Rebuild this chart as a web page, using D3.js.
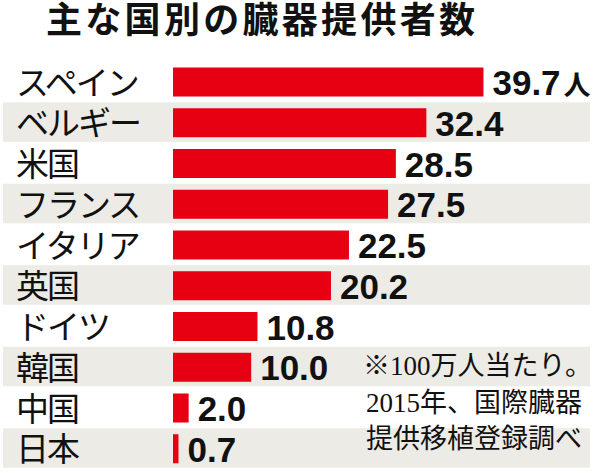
<!DOCTYPE html>
<html>
<head>
<meta charset="utf-8">
<script src="https://cdn.jsdelivr.net/npm/d3@7"></script>
<style>
  html, body { margin: 0; padding: 0; background: #fff; }
  svg { display: block; }
</style>
</head>
<body>
<script>
const titleText = "主な国別の臓器提供者数";
const categories = ["スペイン", "ベルギー", "米国", "フランス", "イタリア", "英国", "ドイツ", "韓国", "中国", "日本"];
const values = [39.7, 32.4, 28.5, 27.5, 22.5, 20.2, 10.8, 10.0, 2.0, 0.7];
const valueLabels = ["39.7", "32.4", "28.5", "27.5", "22.5", "20.2", "10.8", "10.0", "2.0", "0.7"];
const unitText = "人";
const noteLines = ["※100万人当たり。", "2015年、国際臓器", "提供移植登録調べ"];

const W = 600, H = 473;
const svg = d3.select("body").append("svg").attr("width", W).attr("height", H);

const x = d3.scaleLinear().domain([0, 40]).range([173, 173 + 40 * 7.82]);
const y = d3.scaleBand().domain(categories).range([61, 61 + 10 * 40.75]);
const bw = y.bandwidth();

// alternating row backgrounds
svg.append("g").selectAll("rect")
  .data(categories.filter((c, i) => i % 2 === 1))
  .join("rect")
  .attr("x", 3).attr("width", 587)
  .attr("y", c => y(c) + 0.5).attr("height", bw - 1.2)
  .attr("fill", "#ecebe6");

// title
svg.append("text")
  .attr("x", 46).attr("y", 33)
  .attr("font-family", "'Noto Sans CJK JP', sans-serif")
  .attr("font-weight", 700).attr("font-size", 36)
  .attr("letter-spacing", 3.3)
  .attr("fill", "#111")
  .text(titleText);

// bars
const barOff = 6.5, barH = 29;
svg.append("g").selectAll("rect")
  .data(values)
  .join("rect")
  .attr("x", x(0))
  .attr("y", (d, i) => y(categories[i]) + barOff)
  .attr("width", d => x(d) - x(0))
  .attr("height", barH)
  .attr("fill", "#e60012");

// category labels
svg.append("g").selectAll("text")
  .data(categories)
  .join("text")
  .attr("x", 16)
  .attr("y", c => y(c) + barOff + barH / 2 + 12.7)
  .attr("font-family", "'Noto Sans CJK JP', sans-serif")
  .attr("font-size", 33)
  .attr("letter-spacing", -2)
  .attr("fill", "#111")
  .text(c => c);

// value labels
const vl = svg.append("g").selectAll("text")
  .data(values)
  .join("text")
  .attr("x", d => x(d) + 9)
  .attr("y", (d, i) => y(categories[i]) + barOff + barH / 2 + 13)
  .attr("font-family", "'Liberation Sans', Arial, sans-serif")
  .attr("font-weight", 700)
  .attr("font-size", 35)
  .attr("fill", "#111");
vl.append("tspan").text((d, i) => valueLabels[i]);
vl.filter((d, i) => i === 0).append("tspan")
  .attr("dx", 3)
  .attr("font-family", "'Noto Sans CJK JP', sans-serif")
  .attr("font-size", 27)
  .attr("font-weight", 700)
  .text(unitText);

// note
const noteX = [592, 582, 582];
const noteY = [375, 412, 448];
svg.append("g").selectAll("text")
  .data(noteLines)
  .join("text")
  .attr("x", (d, i) => noteX[i])
  .attr("y", (d, i) => noteY[i])
  .attr("text-anchor", "end")
  .attr("font-family", "'Liberation Serif', 'Noto Sans CJK JP', serif")
  .attr("font-size", 27)
  .attr("fill", "#111")
  .text(d => d);
</script>
</body>
</html>
